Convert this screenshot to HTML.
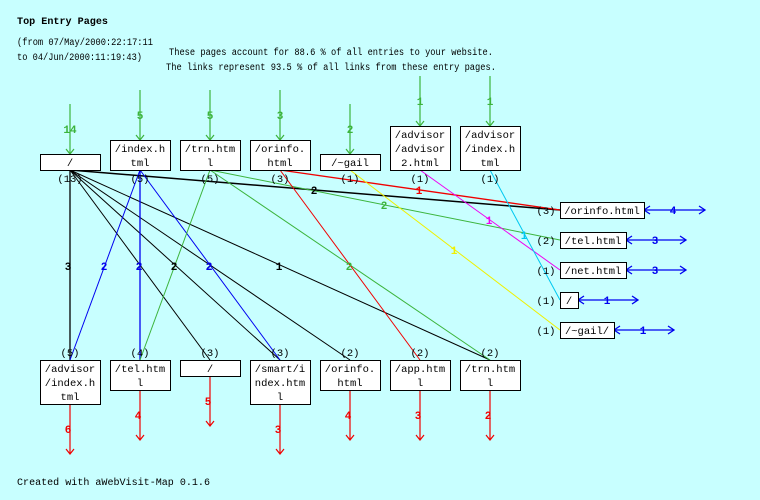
<!DOCTYPE html>
<html><head><meta charset="utf-8"><style>
html,body{margin:0;padding:0;background:#c8ffff;}
svg{display:block;font-family:"Liberation Mono",monospace;}
</style></head><body>
<svg width="760" height="500" viewBox="0 0 760 500" xmlns="http://www.w3.org/2000/svg">
<rect width="760" height="500" fill="#c8ffff"/>
<text x="17" y="24" font-size="10.5" font-weight="bold" textLength="91" lengthAdjust="spacingAndGlyphs">Top Entry Pages</text>
<text x="17" y="45" font-size="10" textLength="136" lengthAdjust="spacingAndGlyphs">(from 07/May/2000:22:17:11</text>
<text x="17" y="60" font-size="10" textLength="125" lengthAdjust="spacingAndGlyphs">to 04/Jun/2000:11:19:43)</text>
<text x="169" y="55" font-size="10" textLength="324" lengthAdjust="spacingAndGlyphs">These pages account for 88.6 % of all entries to your website.</text>
<text x="166" y="70" font-size="10" textLength="330" lengthAdjust="spacingAndGlyphs">The links represent 93.5 % of all links from these entry pages.</text>
<text x="17" y="485" font-size="10" textLength="193" lengthAdjust="spacingAndGlyphs">Created with aWebVisit-Map 0.1.6</text>

<!-- green entry arrows -->
<g stroke="#3cb43c" stroke-width="1.2" fill="none">
<line x1="70" y1="104" x2="70" y2="154"/><polyline points="66,149 70,154 74,149"/>
<line x1="140" y1="90" x2="140" y2="140"/><polyline points="136,135 140,140 144,135"/>
<line x1="210" y1="90" x2="210" y2="140"/><polyline points="206,135 210,140 214,135"/>
<line x1="280" y1="90" x2="280" y2="140"/><polyline points="276,135 280,140 284,135"/>
<line x1="350" y1="104" x2="350" y2="154"/><polyline points="346,149 350,154 354,149"/>
<line x1="420" y1="76" x2="420" y2="126"/><polyline points="416,121 420,126 424,121"/>
<line x1="490" y1="76" x2="490" y2="126"/><polyline points="486,121 490,126 494,121"/>
</g>
<g fill="#3cb43c" font-size="11" font-weight="bold" text-anchor="middle">
<text x="70" y="133">14</text><text x="140" y="119">5</text><text x="210" y="119">5</text>
<text x="280" y="119">3</text><text x="350" y="133">2</text><text x="420" y="105">1</text><text x="490" y="105">1</text>
</g>

<!-- red exit arrows -->
<g stroke="#f00000" stroke-width="1.2" fill="none">
<line x1="70" y1="404" x2="70" y2="454"/><polyline points="66,449 70,454 74,449"/>
<line x1="140" y1="390" x2="140" y2="440"/><polyline points="136,435 140,440 144,435"/>
<line x1="210" y1="376" x2="210" y2="426"/><polyline points="206,421 210,426 214,421"/>
<line x1="280" y1="404" x2="280" y2="454"/><polyline points="276,449 280,454 284,449"/>
<line x1="350" y1="390" x2="350" y2="440"/><polyline points="346,435 350,440 354,435"/>
<line x1="420" y1="390" x2="420" y2="440"/><polyline points="416,435 420,440 424,435"/>
<line x1="490" y1="390" x2="490" y2="440"/><polyline points="486,435 490,440 494,435"/>
</g>
<g fill="#f00000" font-size="11" font-weight="bold" text-anchor="middle">
<text x="68" y="433">6</text><text x="138" y="419">4</text><text x="208" y="405">5</text>
<text x="278" y="433">3</text><text x="348" y="419">4</text><text x="418" y="419">3</text><text x="488" y="419">2</text>
</g>

<!-- edges -->
<g fill="none">
<line x1="70" y1="170" x2="70" y2="360" stroke="#000" stroke-width="1.3"/>
<line x1="70" y1="170" x2="210" y2="360" stroke="#000"/>
<line x1="70" y1="170" x2="280" y2="360" stroke="#000"/>
<line x1="70" y1="170" x2="350" y2="360" stroke="#000"/>
<line x1="70" y1="170" x2="490" y2="360" stroke="#000"/>
<line x1="70" y1="170" x2="560" y2="210" stroke="#000" stroke-width="1.5"/>
<line x1="140" y1="170" x2="70" y2="360" stroke="#0000f0"/>
<line x1="140" y1="170" x2="140" y2="360" stroke="#0000f0" stroke-width="1.3"/>
<line x1="140" y1="170" x2="280" y2="360" stroke="#0000f0"/>
<line x1="210" y1="170" x2="140" y2="360" stroke="#3cb43c"/>
<line x1="210" y1="170" x2="490" y2="360" stroke="#3cb43c"/>
<line x1="210" y1="170" x2="560" y2="240" stroke="#3cb43c"/>
<line x1="280" y1="170" x2="420" y2="360" stroke="#f00000"/>
<line x1="280" y1="170" x2="560" y2="210" stroke="#f00000" stroke-width="1.3"/>
<line x1="350" y1="170" x2="560" y2="330" stroke="#f0f000"/>
<line x1="420" y1="170" x2="560" y2="270" stroke="#f000f0"/>
<line x1="490" y1="170" x2="560" y2="300" stroke="#00c8f0"/>
<polyline points="74,172 70,170 75,168" stroke="#000"/>
</g>
<g font-size="11" font-weight="bold" text-anchor="middle">
<text x="68" y="270" fill="#000">3</text>
<text x="104" y="270" fill="#0000f0">2</text>
<text x="139" y="270" fill="#000">2</text><text x="139" y="270" fill="#0000f0">2</text>
<text x="174" y="270" fill="#000">2</text>
<text x="209" y="270" fill="#000">2</text><text x="209" y="270" fill="#0000f0">2</text>
<text x="279" y="270" fill="#000">1</text>
<text x="349" y="270" fill="#3cb43c">2</text>
<text x="314" y="194" fill="#000">2</text>
<text x="419" y="194" fill="#f00000">1</text>
<text x="384" y="209" fill="#3cb43c">2</text>
<text x="489" y="224" fill="#f000f0">1</text>
<text x="524" y="239" fill="#00c8f0">1</text>
<text x="454" y="254" fill="#f0f000">1</text>
</g>

<!-- right blue double arrows -->
<g stroke="#0000f0" stroke-width="1.3" fill="none">
<line x1="644" y1="210" x2="705" y2="210"/><polyline points="650,206 644,210 650,214"/><polyline points="699,206 705,210 699,214"/>
<line x1="626" y1="240" x2="686" y2="240"/><polyline points="632,236 626,240 632,244"/><polyline points="680,236 686,240 680,244"/>
<line x1="626" y1="270" x2="686" y2="270"/><polyline points="632,266 626,270 632,274"/><polyline points="680,266 686,270 680,274"/>
<line x1="578" y1="300" x2="638" y2="300"/><polyline points="584,296 578,300 584,304"/><polyline points="632,296 638,300 632,304"/>
<line x1="614" y1="330" x2="674" y2="330"/><polyline points="620,326 614,330 620,334"/><polyline points="668,326 674,330 668,334"/>
</g>
<g fill="#0000f0" font-size="11" font-weight="bold" text-anchor="middle">
<text x="673" y="214">4</text><text x="655" y="244">3</text><text x="655" y="274">3</text>
<text x="607" y="304">1</text><text x="643" y="334">1</text>
</g>

<!-- nodes -->
<g fill="#fff" stroke="#000" stroke-width="1">
<rect x="40.5" y="154.5" width="60" height="16"/>
<rect x="110.5" y="140.5" width="60" height="30"/>
<rect x="180.5" y="140.5" width="60" height="30"/>
<rect x="250.5" y="140.5" width="60" height="30"/>
<rect x="320.5" y="154.5" width="60" height="16"/>
<rect x="390.5" y="126.5" width="60" height="44"/>
<rect x="460.5" y="126.5" width="60" height="44"/>
<rect x="560.5" y="202.5" width="84" height="16"/>
<rect x="560.5" y="232.5" width="66" height="16"/>
<rect x="560.5" y="262.5" width="66" height="16"/>
<rect x="560.5" y="292.5" width="18" height="16"/>
<rect x="560.5" y="322.5" width="54" height="16"/>
<rect x="40.5" y="360.5" width="60" height="44"/>
<rect x="110.5" y="360.5" width="60" height="30"/>
<rect x="180.5" y="360.5" width="60" height="16"/>
<rect x="250.5" y="360.5" width="60" height="44"/>
<rect x="320.5" y="360.5" width="60" height="30"/>
<rect x="390.5" y="360.5" width="60" height="30"/>
<rect x="460.5" y="360.5" width="60" height="30"/>
</g>
<g font-size="10.5" text-anchor="middle" fill="#000">
<text x="70" y="166">/</text>
<text x="140" y="152">/index.h</text><text x="140" y="166">tml</text>
<text x="210" y="152">/trn.htm</text><text x="210" y="166">l</text>
<text x="280" y="152">/orinfo.</text><text x="280" y="166">html</text>
<text x="350" y="166">/~gail</text>
<text x="420" y="138">/advisor</text><text x="420" y="152">/advisor</text><text x="420" y="166">2.html</text>
<text x="490" y="138">/advisor</text><text x="490" y="152">/index.h</text><text x="490" y="166">tml</text>
<text x="70" y="182">(13)</text><text x="140" y="182">(5)</text><text x="210" y="182">(5)</text>
<text x="280" y="182">(3)</text><text x="350" y="182">(1)</text><text x="420" y="182">(1)</text><text x="490" y="182">(1)</text>
<text x="602" y="214">/orinfo.html</text>
<text x="593" y="244">/tel.html</text>
<text x="593" y="274">/net.html</text>
<text x="569" y="304">/</text>
<text x="587" y="334">/~gail/</text>
<text x="546" y="214">(3)</text><text x="546" y="244">(2)</text><text x="546" y="274">(1)</text>
<text x="546" y="304">(1)</text><text x="546" y="334">(1)</text>
<text x="70" y="356">(5)</text><text x="140" y="356">(4)</text><text x="210" y="356">(3)</text>
<text x="280" y="356">(3)</text><text x="350" y="356">(2)</text><text x="420" y="356">(2)</text><text x="490" y="356">(2)</text>
<text x="70" y="372">/advisor</text><text x="70" y="386">/index.h</text><text x="70" y="400">tml</text>
<text x="140" y="372">/tel.htm</text><text x="140" y="386">l</text>
<text x="210" y="372">/</text>
<text x="280" y="372">/smart/i</text><text x="280" y="386">ndex.htm</text><text x="280" y="400">l</text>
<text x="350" y="372">/orinfo.</text><text x="350" y="386">html</text>
<text x="420" y="372">/app.htm</text><text x="420" y="386">l</text>
<text x="490" y="372">/trn.htm</text><text x="490" y="386">l</text>
</g>
</svg>
</body></html>
